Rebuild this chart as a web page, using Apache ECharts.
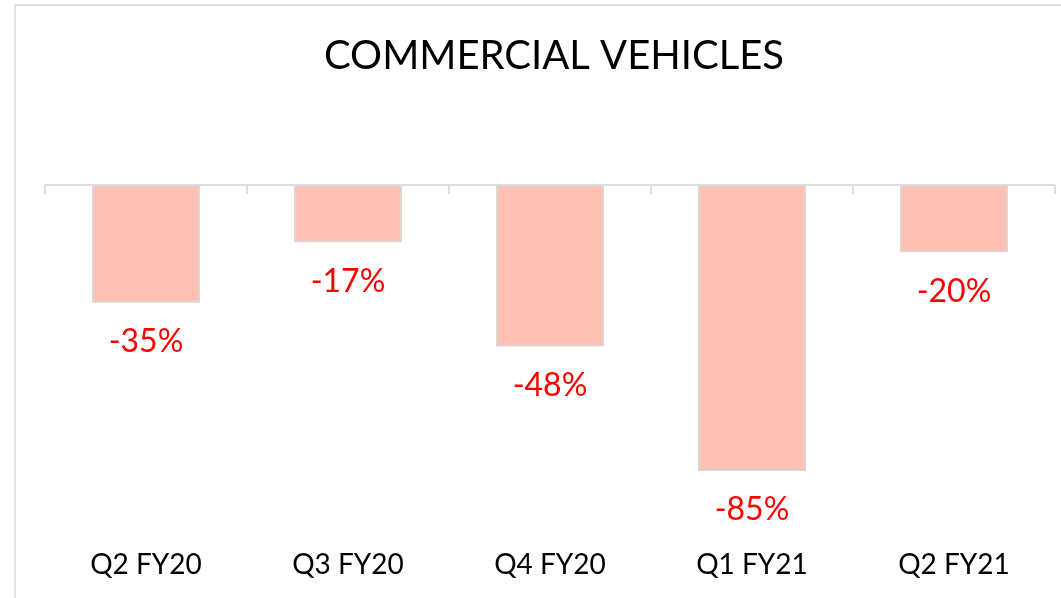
<!DOCTYPE html>
<html style="height: 100%">
<head>
<meta charset="utf-8">
<script src="https://cdn.jsdelivr.net/npm/echarts@6/dist/echarts.min.js"></script>
<style>
  body { height: 100%; margin: 0; overflow: hidden; background: #fff; }
  #container { width: 1061px; height: 598px; }
</style>
</head>
<body>
<div id="container"></div>
<script>
var title = 'COMMERCIAL VEHICLES';
var quarters = ['Q2 FY20', 'Q3 FY20', 'Q4 FY20', 'Q1 FY21', 'Q2 FY21'];
var growth = [-35, -17, -48, -85, -20];

var chart = echarts.init(document.getElementById('container'));
var font = 'Lato, "Open Sans", sans-serif';

chart.setOption({
  animation: false,
  graphic: [{
    type: 'rect',
    shape: { x: 15, y: 5, width: 1100, height: 700 },
    style: { fill: 'none', stroke: '#d9d9d9', lineWidth: 1.5 },
    silent: true
  }],
  title: {
    text: title,
    left: 549,
    top: 31,
    textAlign: 'center',
    textStyle: { fontFamily: font, fontWeight: 'normal', fontSize: 40, color: '#000' }
  },
  grid: { left: 45, right: 6, top: 185, bottom: 76.5, containLabel: false },
  xAxis: [{
    type: 'category',
    data: quarters,
    position: 'top',
    axisLine: { show: true, lineStyle: { color: '#d4d4d4', width: 1.5 } },
    axisTick: { show: true, inside: true, length: 9, interval: 0, lineStyle: { color: '#d4d4d4', width: 1.5 } },
    axisLabel: { show: false }
  }, {
    type: 'category',
    data: quarters,
    position: 'bottom',
    axisLine: { show: false },
    axisTick: { show: false },
    axisLabel: { margin: 29, fontFamily: font, fontSize: 28, color: '#000' }
  }],
  yAxis: {
    type: 'value',
    min: -100,
    max: 0,
    show: false,
    splitLine: { show: false }
  },
  series: [{
    type: 'bar',
    data: growth,
    barWidth: 108,
    itemStyle: { color: '#fdc1b4', borderColor: '#d9d9d9', borderWidth: 1.5 },
    label: {
      show: true,
      position: 'bottom',
      distance: 23,
      formatter: '{c}%',
      fontFamily: font,
      fontSize: 32,
      color: '#ff0000'
    }
  }]
});
</script>
</body>
</html>
